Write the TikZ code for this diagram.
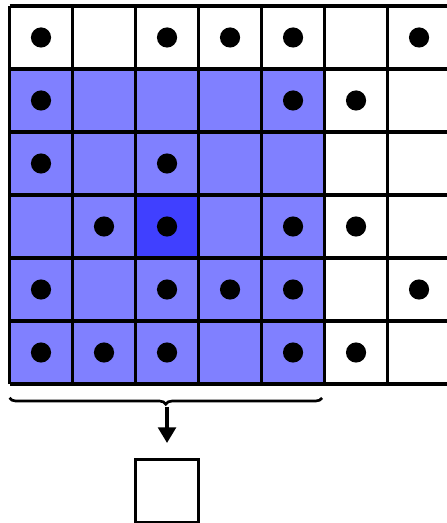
\documentclass[tikz,border=0pt]{standalone}
\usetikzlibrary{arrows.meta,decorations.pathreplacing}
\definecolor{lightblue}{RGB}{128,128,255}
\definecolor{darkblue}{RGB}{64,64,255}
\begin{document}
\begin{tikzpicture}[line width=1.4pt,
    dot/.style={circle, fill=black, inner sep=0pt, minimum size=0.32cm}]
    \useasboundingbox (-0.151,-2.206) rectangle (6.929,6.095);
    % Regiao destacada e celula central
    \fill[lightblue] (0,0) rectangle (5,5);
    \fill[darkblue] (2,2) rectangle (3,3);
    \draw (0,0) grid (7,6);

    % Pontos nas celulas
    \foreach \x/\y in {0/5,2/5,3/5,4/5,6/5, 0/4,4/4,5/4, 0/3,2/3,
                       1/2,2/2,4/2,5/2, 0/1,2/1,3/1,4/1,6/1, 0/0,1/0,2/0,4/0,5/0}
        \node[dot] (p\x\y) at (\x+0.5,\y+0.5) {};

    % Chave e resultado
    \draw[line width=1.2pt, decorate, decoration={brace, mirror, amplitude=0.1cm}]
        (0,-0.22) -- (4.96,-0.22);
    \coordinate (tip) at (2.5,-0.36);
    \node[draw, minimum size=1cm] (out) at (2.5,-1.7) {};
    \draw[-{Triangle[width=8pt,length=7pt]}, shorten >=0.24cm] (tip) -- (out);
\end{tikzpicture}
\end{document}
